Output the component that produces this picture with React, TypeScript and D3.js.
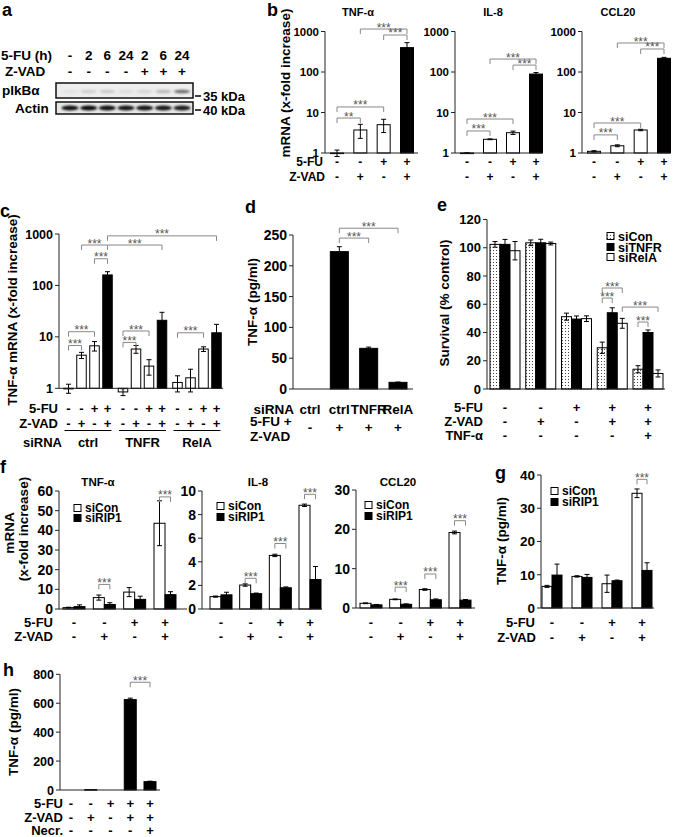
import React from 'react';
import * as d3 from 'd3';

const FONT = '"Liberation Sans", Arial, Helvetica, sans-serif';

/* ---------------- data ---------------- */
type Sig = { a: number; b: number; v: number; t?: string };

// panel a (western blot)
const aLanes5FU = ['-', '2', '6', '24', '2', '6', '24'];
const aLanesZVAD = ['-', '-', '-', '-', '+', '+', '+'];
const aPIkBa = [0.05, 0.13, 0.15, 0.07, 0.1, 0.22, 0.55];
const aActin = [0.92, 0.95, 0.93, 0.9, 0.92, 0.9, 0.88];

// panel b
const bFU = ['-', '-', '+', '+'];
const bZVAD = ['-', '+', '-', '+'];
const bFill = ['white', 'white', 'white', 'black'];
const bTNF = [1.0, 3.7, 5.0, 400];
const bTNFErr = [0.18, 1.4, 1.8, 130];
const bIL8 = [1.0, 2.18, 3.17, 89];
const bIL8Err = [0.02, 0.05, 0.3, 8];
const bCCL20 = [1.1, 1.51, 3.7, 218];
const bCCL20Err = [0.04, 0.08, 0.15, 12];
const bTNFSig: Sig[] = [
  { a: 0, b: 1, v: 7.3, t: '**' }, { a: 0, b: 2, v: 13.7 }, { a: 1, b: 3, v: 1150 }, { a: 2, b: 3, v: 820 },
];
const bIL8Sig: Sig[] = [{ a: 0, b: 1, v: 3.5 }, { a: 0, b: 2, v: 6.9 }, { a: 1, b: 3, v: 209 }, { a: 2, b: 3, v: 148 }];
const bCCL20Sig: Sig[] = [{ a: 0, b: 1, v: 2.8 }, { a: 0, b: 2, v: 5.5 }, { a: 1, b: 3, v: 520 }, { a: 2, b: 3, v: 370 }];
const logTicks = [1, 10, 100, 1000];

// panel c
const cGroups = ['ctrl', 'TNFR', 'RelA'];
const cFU = ['-', '-', '+', '+'];
const cZVAD = ['-', '+', '-', '+'];
const cValues = [[1.0, 4.4, 6.7, 160], [0.85, 5.8, 2.7, 21], [1.3, 1.6, 5.8, 12]];
const cErr = [[0.2, 0.6, 1.4, 25], [0.13, 1.0, 0.9, 9], [0.45, 0.75, 0.6, 5.5]];
const cSig: Sig[] = [
  { a: 0, b: 1, v: 6.8 }, { a: 0, b: 2, v: 12.6 }, { a: 4, b: 5, v: 7.8 }, { a: 4, b: 6, v: 13 },
  { a: 8, b: 10, v: 12 }, { a: 1, b: 3, v: 610 }, { a: 2, b: 3, v: 330 }, { a: 3, b: 7, v: 610 }, { a: 3, b: 11, v: 920 },
];

// panel d
const dSiRNA = ['ctrl', 'ctrl', 'TNFR', 'RelA'];
const dFUZVAD = ['-', '+', '+', '+'];
const dValues = [0, 223, 66, 10.8];
const dErr = [0, 8, 2, 0.5];
const dSig: Sig[] = [{ a: 1, b: 2, v: 245 }, { a: 1, b: 3, v: 261 }];
const dTicks = [0, 50, 100, 150, 200, 250];

// panel e
const eSeries = ['siCon', 'siTNFR', 'siRelA'];
const eFU = ['-', '-', '+', '+', '+'];
const eZVAD = ['-', '+', '-', '+', '+'];
const eTNF = ['-', '-', '-', '-', '+'];
const eSiCon = [102.4, 103.5, 51.2, 29.2, 14];
const eSiConErr = [2, 2, 2.5, 4, 2.5];
const eSiTNFR = [102.4, 103.5, 49.5, 54, 40];
const eSiTNFRErr = [3.5, 2.5, 2.2, 3.5, 1.8];
const eSiRelA = [97.9, 103, 49.8, 46.5, 11];
const eSiRelAErr = [6.5, 1, 2, 3.5, 2.5];
const eSig: Sig[] = [{ a: 9, b: 11, v: 71.5 }, { a: 9, b: 10, v: 64.4 }, { a: 11, b: 14, v: 58 }, { a: 12, b: 13, v: 47.4 }];
const eTicks = [0, 20, 40, 60, 80, 100, 120];

// panel f
const fSeries = ['siCon', 'siRIP1'];
const fFU = ['-', '-', '+', '+'];
const fZVAD = ['-', '+', '-', '+'];
const fTNFsiCon = [0.7, 5.8, 8.6, 43.6];
const fTNFsiConErr = [0.2, 1.3, 2.3, 11.4];
const fTNFsiRIP1 = [1.2, 2.3, 4.9, 7.3];
const fTNFsiRIP1Err = [0.9, 0.9, 1.6, 1.5];
const fIL8siCon = [1.05, 2.03, 4.54, 8.79];
const fIL8siConErr = [0.05, 0.1, 0.1, 0.1];
const fIL8siRIP1 = [1.2, 1.3, 1.8, 2.5];
const fIL8siRIP1Err = [0.22, 0.05, 0.07, 1.1];
const fCCL20siCon = [1.2, 2.2, 4.7, 19.2];
const fCCL20siConErr = [0.1, 0.1, 0.2, 0.35];
const fCCL20siRIP1 = [0.8, 0.95, 2.1, 2.0];
const fCCL20siRIP1Err = [0.1, 0.1, 0.2, 0.15];
const fTNFSig: Sig[] = [{ a: 2, b: 3, v: 12.5 }, { a: 6, b: 7, v: 57 }];
const fIL8Sig: Sig[] = [{ a: 2, b: 3, v: 2.6 }, { a: 4, b: 5, v: 5.55 }, { a: 6, b: 7, v: 9.72 }];
const fCCL20Sig: Sig[] = [{ a: 2, b: 3, v: 5.3 }, { a: 4, b: 5, v: 8.65 }, { a: 6, b: 7, v: 22.2 }];
const fTNFTicks = [0, 10, 20, 30, 40, 50, 60];
const fIL8Ticks = [0, 2, 4, 6, 8, 10];
const fCCL20Ticks = [0, 10, 20, 30];

// panel g
const gSiCon = [6.5, 9.5, 7.3, 34.5];
const gSiConErr = [0.3, 0.2, 2.6, 1.3];
const gSiRIP1 = [9.9, 9.2, 8.2, 11.3];
const gSiRIP1Err = [3.3, 0.9, 0.2, 2.3];
const gSig: Sig[] = [{ a: 6, b: 7, v: 38.7 }];
const gTicks = [0, 10, 20, 30, 40];

// panel h
const hFU = ['-', '-', '+', '+', '+'];
const hZVAD = ['-', '+', '-', '+', '+'];
const hNecr = ['-', '-', '-', '-', '+'];
const hValues = [0, 3, 0, 625, 58];
const hErr = [0, 0, 0, 10, 3];
const hSig: Sig[] = [{ a: 3, b: 4, v: 745 }];
const hTicks = [0, 200, 400, 600, 800];

/* ---------------- helpers ---------------- */
type BarD = { x: number; w: number; v: number; e: number; fill: string };

function Chart(props: {
  x0: number; x1: number; y: (v: number) => number; ticks: number[]; base: number; top: number;
  bars: BarD[]; sigs: Sig[]; fs?: number; lo?: number;
}) {
  const { x0, x1, y, ticks, base, top, bars, sigs, fs = 13, lo = 0 } = props;
  const yb = y(base);
  return (
    <g>
      {bars.map((d, i) => {
        if (d.v === 0) return null;
        const yv = y(d.v);
        return (
          <rect key={'b' + i} x={d.x - d.w / 2} y={Math.min(yb, yv)} width={d.w}
            height={Math.max(0.6, Math.abs(yb - yv))} fill={d.fill} stroke="#000" strokeWidth={1} />
        );
      })}
      {bars.map((d, i) => {
        if (!(d.e > 0)) return null;
        const yt = y(d.v + d.e);
        const ybot = y(Math.max(d.v - d.e, lo || 1e-9));
        return (
          <g key={'e' + i} stroke="#000" strokeWidth={1}>
            <line x1={d.x} x2={d.x} y1={ybot} y2={yt} />
            <line x1={d.x - 2.5} x2={d.x + 2.5} y1={yt} y2={yt} />
            <line x1={d.x - 2.5} x2={d.x + 2.5} y1={ybot} y2={ybot} />
          </g>
        );
      })}
      <line x1={x0} x2={x0} y1={y(top)} y2={yb} stroke="#222" strokeWidth={1} />
      <line x1={x0} x2={x1} y1={yb} y2={yb} stroke="#222" strokeWidth={1} />
      {ticks.map((t) => (
        <g key={'t' + t}>
          <line x1={x0 - 4} x2={x0} y1={y(t)} y2={y(t)} stroke="#222" />
          <text x={x0 - 6} y={y(t)} dy="0.36em" textAnchor="end" fontSize={fs}>{t}</text>
        </g>
      ))}
      {sigs.map((s, i) => {
        const xa = bars[s.a].x, xb = bars[s.b].x, yy = y(s.v);
        return (
          <g key={'s' + i}>
            <path d={`M${xa},${yy + 5}V${yy}H${xb}V${yy + 5}`} fill="none" stroke="#888" strokeWidth={1} />
            <text x={(xa + xb) / 2} y={yy + 2.5} textAnchor="middle" fontSize={12} fontWeight="normal" fill="#555">
              {s.t ?? '***'}
            </text>
          </g>
        );
      })}
    </g>
  );
}

function SignRow({ xs, signs, y, fs = 13 }: { xs: number[]; signs: string[]; y: number; fs?: number }) {
  return (
    <g>
      {signs.map((s, i) => (
        <text key={i} x={xs[i]} y={y} dy="0.36em" textAnchor="middle" fontSize={fs}>{s}</text>
      ))}
    </g>
  );
}

function Label({ x, y, children, anchor = 'end', fs = 13, rotate = false }: any) {
  return (
    <text x={x} y={y} dy="0.36em" textAnchor={anchor} fontSize={fs}
      transform={rotate ? `rotate(-90 ${x} ${y})` : undefined}>{children}</text>
  );
}

function grouped(groupX: (i: number) => number, inner: (j: number) => number, series: number[][], errs: number[][],
  fills: string[], w: number): BarD[] {
  const out: BarD[] = [];
  series[0].forEach((_, g) => {
    series.forEach((s, j) => {
      out.push({ x: groupX(g) + inner(j), w, v: s[g], e: errs[j][g], fill: fills[j] });
    });
  });
  return out;
}

/* ---------------- panels ---------------- */
function PanelA() {
  const lx = d3.scalePoint<number>().domain(d3.range(7)).range([70, 182]);
  return (
    <g>
      <text x={2} y={16} fontSize={18}>a</text>
      <Label x={1} y={55} anchor="start" fs={13.5}>5-FU (h)</Label>
      <Label x={5} y={71} anchor="start" fs={13.5}>Z-VAD</Label>
      <SignRow xs={d3.range(7).map((i) => lx(i)!)} signs={aLanes5FU} y={55} fs={13.5} />
      <SignRow xs={d3.range(7).map((i) => lx(i)!)} signs={aLanesZVAD} y={71} fs={13.5} />
      <Label x={2} y={90} anchor="start" fs={13.5}>pIkBα</Label>
      <Label x={15} y={108} anchor="start" fs={13.5}>Actin</Label>
      <rect x={56} y={83} width={137} height={15} fill="#ededed" stroke="#111" strokeWidth={1.5} />
      <rect x={56} y={102} width={137} height={12} fill="#e6e6e6" stroke="#111" strokeWidth={1.5} />
      <g filter="url(#blur)">
        {aPIkBa.map((v, i) => (
          <ellipse key={'p' + i} cx={lx(i)} cy={91.5} rx={8} ry={1.8} fill="#000" opacity={v} />
        ))}
        {aActin.map((v, i) => (
          <ellipse key={'a' + i} cx={lx(i)} cy={108} rx={8.5} ry={2.4} fill="#000" opacity={v} />
        ))}
      </g>
      <line x1={195} x2={201} y1={96} y2={96} stroke="#000" strokeWidth={1.5} />
      <Label x={203} y={96} anchor="start" fs={13}>35 kDa</Label>
      <line x1={195} x2={201} y1={110} y2={110} stroke="#000" strokeWidth={1.5} />
      <Label x={203} y={110} anchor="start" fs={13}>40 kDa</Label>
    </g>
  );
}

function PanelB() {
  const y = d3.scaleLog().domain([1, 1000]).range([153, 31.5]);
  const charts = [
    { title: 'TNF-α', cx: 358, x0: 325, x1: 418, r: [337, 407], v: bTNF, e: bTNFErr, s: bTNFSig },
    { title: 'IL-8', cx: 493, x0: 455, x1: 542, r: [467, 536], v: bIL8, e: bIL8Err, s: bIL8Sig },
    { title: 'CCL20', cx: 618, x0: 582, x1: 670, r: [594, 664], v: bCCL20, e: bCCL20Err, s: bCCL20Sig },
  ];
  return (
    <g>
      <text x={267} y={16} fontSize={18}>b</text>
      <Label x={285} y={83} anchor="middle" rotate fs={13.5}>mRNA (x-fold increase)</Label>
      {charts.map((c) => {
        const xs = d3.scalePoint<number>().domain(d3.range(4)).range(c.r as [number, number]);
        const bars = c.v.map((v, i) => ({ x: xs(i)!, w: 13, v, e: c.e[i], fill: bFill[i] }));
        const px = d3.range(4).map((i) => xs(i)!);
        return (
          <g key={c.title}>
            <Label x={c.cx} y={12} anchor="middle" fs={11}>{c.title}</Label>
            <Chart x0={c.x0} x1={c.x1} y={y} ticks={logTicks} base={1} top={1000} bars={bars} sigs={c.s} fs={11.5} lo={0.5} />
            <SignRow xs={px} signs={bFU} y={162} fs={12} />
            <SignRow xs={px} signs={bZVAD} y={177} fs={12} />
          </g>
        );
      })}
      <Label x={323} y={162} fs={12}>5-FU</Label>
      <Label x={325} y={177} fs={12}>Z-VAD</Label>
    </g>
  );
}

function PanelC() {
  const y = d3.scaleLog().domain([1, 1000]).range([388.3, 234]);
  const gx = d3.scalePoint<number>().domain(d3.range(3)).range([88, 197]);
  const ix = d3.scalePoint<number>().domain(d3.range(4)).range([-19.5, 19.5]);
  const bars: BarD[] = [];
  cValues.forEach((grp, g) => grp.forEach((v, j) => bars.push({
    x: gx(g)! + ix(j)!, w: 9.5, v, e: cErr[g][j], fill: j === 3 ? 'black' : 'white',
  })));
  const xs = bars.map((b) => b.x);
  return (
    <g>
      <text x={0} y={217} fontSize={18}>c</text>
      <Label x={12} y={310} anchor="middle" rotate fs={13.5}>TNF-α mRNA (x-fold increase)</Label>
      <Chart x0={59} x1={223} y={y} ticks={logTicks} base={1} top={1000} bars={bars} sigs={cSig} fs={12.5} lo={0.5} />
      <Label x={58} y={408}>5-FU</Label>
      <Label x={58} y={423}>Z-VAD</Label>
      <SignRow xs={xs} signs={[...cFU, ...cFU, ...cFU]} y={408} />
      <SignRow xs={xs} signs={[...cZVAD, ...cZVAD, ...cZVAD]} y={423} />
      {cGroups.map((gname, g) => (
        <g key={gname}>
          <line x1={gx(g)! - 23.5} x2={gx(g)! + 23.5} y1={430.5} y2={430.5} stroke="#000" strokeWidth={1} />
          <Label x={gx(g)!} y={442} anchor="middle">{gname}</Label>
        </g>
      ))}
      <Label x={62} y={442}>siRNA</Label>
    </g>
  );
}

function PanelD() {
  const y = d3.scaleLinear().domain([0, 250]).range([389, 235]);
  const xs = d3.scalePoint<number>().domain(d3.range(4)).range([310, 398]);
  const bars = dValues.map((v, i) => ({ x: xs(i)!, w: 18, v, e: dErr[i], fill: 'black' }));
  const px = bars.map((b) => b.x);
  return (
    <g>
      <text x={245} y={213} fontSize={18}>d</text>
      <Label x={252} y={302} anchor="middle" rotate fs={13.5}>TNF-α (pg/ml)</Label>
      <Chart x0={293} x1={413} y={y} ticks={dTicks} base={0} top={250} bars={bars} sigs={dSig} fs={14} />
      <Label x={294} y={409} fs={13.5}>siRNA</Label>
      <SignRow xs={px} signs={dSiRNA} y={409} fs={13.5} />
      <Label x={250} y={421} anchor="start" fs={13.5}>5-FU +</Label>
      <Label x={250} y={436} anchor="start" fs={13.5}>Z-VAD</Label>
      <SignRow xs={px} signs={dFUZVAD} y={427} fs={13.5} />
    </g>
  );
}

function PanelE() {
  const y = d3.scaleLinear().domain([0, 120]).range([389, 219.5]);
  const gx = d3.scalePoint<number>().domain(d3.range(5)).range([505, 648]);
  const ix = d3.scalePoint<number>().domain(d3.range(3)).range([-10, 10]);
  const fills = ['url(#dots)', 'black', 'white'];
  const bars = grouped((g) => gx(g)!, (j) => ix(j)!, [eSiCon, eSiTNFR, eSiRelA],
    [eSiConErr, eSiTNFRErr, eSiRelAErr], fills, 10);
  const px = d3.range(5).map((g) => gx(g)!);
  const ly = [236, 247, 257];
  return (
    <g>
      <text x={437} y={211} fontSize={18}>e</text>
      <Label x={444} y={303} anchor="middle" rotate fs={13.5}>Survival (% control)</Label>
      <Chart x0={487} x1={665} y={y} ticks={eTicks} base={0} top={120} bars={bars} sigs={eSig} fs={13} />
      {eSeries.map((s, j) => (
        <g key={s}>
          <rect x={607} y={ly[j] - 3.5} width={7} height={7} fill={fills[j]} stroke="#000" strokeWidth={1} />
          <Label x={618} y={ly[j]} anchor="start" fs={12.5}>{s}</Label>
        </g>
      ))}
      <Label x={483} y={407}>5-FU</Label>
      <Label x={483} y={421}>Z-VAD</Label>
      <Label x={483} y={435}>TNF-α</Label>
      <SignRow xs={px} signs={eFU} y={407} />
      <SignRow xs={px} signs={eZVAD} y={421} />
      <SignRow xs={px} signs={eTNF} y={435} />
    </g>
  );
}

function Legend2({ x, y1, y2 }: { x: number; y1: number; y2: number }) {
  return (
    <g>
      {fSeries.map((s, j) => (
        <g key={s}>
          <rect x={x} y={(j ? y2 : y1) - 3.5} width={7} height={7} fill={j ? 'black' : 'white'} stroke="#000" strokeWidth={1} />
          <Label x={x + 11} y={j ? y2 : y1} anchor="start" fs={12}>{s}</Label>
        </g>
      ))}
    </g>
  );
}

function PanelF() {
  const ix = d3.scalePoint<number>().domain(d3.range(2)).range([-5.5, 5.5]);
  const charts = [
    { title: 'TNF-α', tx: 98, x0: 59, x1: 187, r: [74, 165], dom: 60, yr: [609, 491], ticks: fTNFTicks,
      s: [fTNFsiCon, fTNFsiRIP1], e: [fTNFsiConErr, fTNFsiRIP1Err], sig: fTNFSig, lg: [74, 508, 518] },
    { title: 'IL-8', tx: 258, x0: 202, x1: 322, r: [221, 310], dom: 10, yr: [609, 491], ticks: fIL8Ticks,
      s: [fIL8siCon, fIL8siRIP1], e: [fIL8siConErr, fIL8siRIP1Err], sig: fIL8Sig, lg: [217, 506, 517] },
    { title: 'CCL20', tx: 398, x0: 356, x1: 475, r: [371, 460], dom: 30, yr: [608, 490], ticks: fCCL20Ticks,
      s: [fCCL20siCon, fCCL20siRIP1], e: [fCCL20siConErr, fCCL20siRIP1Err], sig: fCCL20Sig, lg: [365, 505, 516] },
  ];
  return (
    <g>
      <text x={0} y={473} fontSize={18}>f</text>
      <Label x={9} y={533} anchor="middle" rotate fs={13.5}>mRNA</Label>
      <Label x={23} y={529} anchor="middle" rotate fs={13.5}>(x-fold increase)</Label>
      {charts.map((c) => {
        const y = d3.scaleLinear().domain([0, c.dom]).range(c.yr as [number, number]);
        const gx = d3.scalePoint<number>().domain(d3.range(4)).range(c.r as [number, number]);
        const bars = grouped((g) => gx(g)!, (j) => ix(j)!, c.s, c.e, ['white', 'black'], 11);
        const px = d3.range(4).map((g) => gx(g)!);
        return (
          <g key={c.title}>
            <Label x={c.tx} y={482} anchor="middle" fs={11.5}>{c.title}</Label>
            <Chart x0={c.x0} x1={c.x1} y={y} ticks={c.ticks} base={0} top={c.dom} bars={bars} sigs={c.sig} fs={14} />
            <Legend2 x={c.lg[0]} y1={c.lg[1]} y2={c.lg[2]} />
            <SignRow xs={px} signs={fFU} y={622} />
            <SignRow xs={px} signs={fZVAD} y={636} />
          </g>
        );
      })}
      <Label x={53} y={622}>5-FU</Label>
      <Label x={53} y={636}>Z-VAD</Label>
    </g>
  );
}

function PanelG() {
  const y = d3.scaleLinear().domain([0, 40]).range([608, 475]);
  const gx = d3.scalePoint<number>().domain(d3.range(4)).range([552, 642]);
  const ix = d3.scalePoint<number>().domain(d3.range(2)).range([-5, 5]);
  const bars = grouped((g) => gx(g)!, (j) => ix(j)!, [gSiCon, gSiRIP1], [gSiConErr, gSiRIP1Err], ['white', 'black'], 10);
  const px = d3.range(4).map((g) => gx(g)!);
  return (
    <g>
      <text x={495} y={479} fontSize={18}>g</text>
      <Label x={501} y={541} anchor="middle" rotate fs={13.5}>TNF-α (pg/ml)</Label>
      <Chart x0={541} x1={654} y={y} ticks={gTicks} base={0} top={40} bars={bars} sigs={gSig} fs={13.5} />
      <Legend2 x={551} y1={491} y2={502} />
      <Label x={535} y={622}>5-FU</Label>
      <Label x={536} y={637}>Z-VAD</Label>
      <SignRow xs={px} signs={fFU} y={622} />
      <SignRow xs={px} signs={fZVAD} y={637} />
    </g>
  );
}

function PanelH() {
  const y = d3.scaleLinear().domain([0, 800]).range([790, 674.3]);
  const xs = d3.scalePoint<number>().domain(d3.range(5)).range([71, 150]);
  const bars = hValues.map((v, i) => ({ x: xs(i)!, w: 12, v, e: hErr[i], fill: 'black' }));
  const px = bars.map((b) => b.x);
  return (
    <g>
      <text x={3} y={676} fontSize={18}>h</text>
      <Label x={13} y={732} anchor="middle" rotate fs={13.5}>TNF-α (pg/ml)</Label>
      <Chart x0={60} x1={160} y={y} ticks={hTicks} base={0} top={800} bars={bars} sigs={hSig} fs={12.5} />
      <Label x={63} y={803}>5-FU</Label>
      <Label x={63} y={817}>Z-VAD</Label>
      <Label x={63} y={830}>Necr.</Label>
      <SignRow xs={px} signs={hFU} y={803} />
      <SignRow xs={px} signs={hZVAD} y={817} />
      <SignRow xs={px} signs={hNecr} y={830} />
    </g>
  );
}

export default function App() {
  return (
    <svg width={674} height={837} viewBox="0 0 674 837"
      style={{ position: 'absolute', left: 0, top: 0, background: '#fff' }}
      fontFamily={FONT} fontWeight="bold" fill="#000">
      <defs>
        <filter id="blur" x="-20%" y="-50%" width="140%" height="200%">
          <feGaussianBlur stdDeviation="0.9" />
        </filter>
        <pattern id="dots" width="3" height="3" patternUnits="userSpaceOnUse">
          <rect width="3" height="3" fill="#fff" />
          <rect x="1" y="1" width="1" height="1" fill="#444" />
        </pattern>
      </defs>
      <rect width={674} height={837} fill="#fff" />
      <PanelA />
      <PanelB />
      <PanelC />
      <PanelD />
      <PanelE />
      <PanelF />
      <PanelG />
      <PanelH />
    </svg>
  );
}
